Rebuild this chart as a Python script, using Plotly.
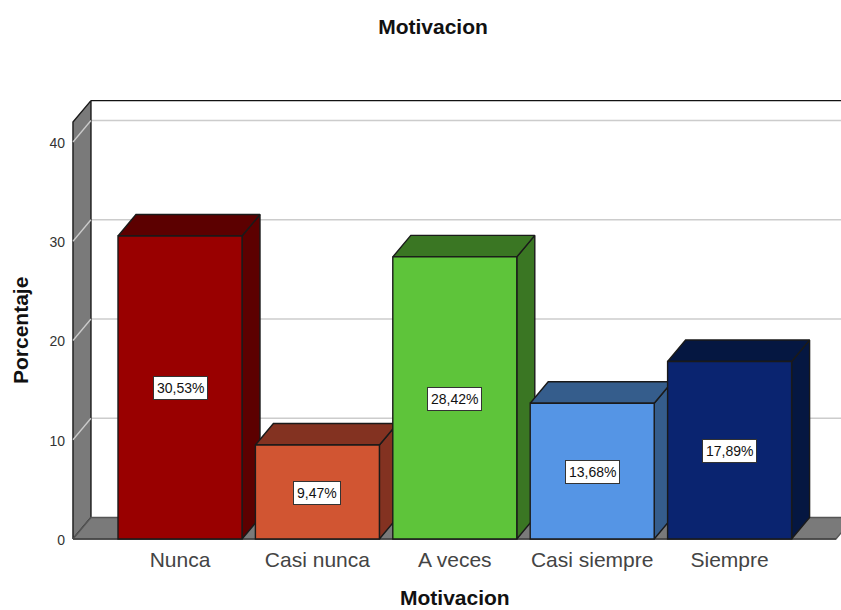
import plotly.graph_objects as go

categories = ["Nunca", "Casi nunca", "A veces", "Casi siempre", "Siempre"]
values = [30.53, 9.47, 28.42, 13.68, 17.89]
labels = ["30,53%", "9,47%", "28,42%", "13,68%", "17,89%"]
front_colors = ["#990000", "#D15532", "#5EC43A", "#5595E5", "#0A2470"]
shade_colors = ["#5C0000", "#833221", "#3A7623", "#355D8C", "#051741"]
y_ticks = [0, 10, 20, 30, 40]

# Plot geometry in axis units
PX_X = 137.4
PX_Y = 9.926
DX = 18 / PX_X
DY = 21.5 / PX_Y
BAR_W = 124 / PX_X
WALL_X = -0.779
FLOOR_X = 4.774
WALL_TOP = 42.0
EDGE = "#1a1a1a"
AX_RANGE_X = [-110 / PX_X, 661 / PX_X]
AX_RANGE_Y = [-0.3, 44.63]

fig = go.Figure()


def poly(xs, ys, fill, line=EDGE, width=1.4, z=0):
    fig.add_trace(go.Scatter(
        x=xs, y=ys, mode="lines", fill="toself", fillcolor=fill,
        line=dict(color=line, width=width), hoverinfo="skip",
        showlegend=False, zorder=z))


def seg(xs, ys, color, width=1.5, z=0):
    fig.add_trace(go.Scatter(
        x=xs, y=ys, mode="lines", line=dict(color=color, width=width),
        hoverinfo="skip", showlegend=False, zorder=z))


# Back-wall gridlines
for t in y_ticks[1:]:
    seg([WALL_X + DX, FLOOR_X + DX], [t + DY, t + DY], "#CCCCCC", 1.5)
# Back frame
seg([WALL_X + DX, FLOOR_X + DX], [WALL_TOP + DY, WALL_TOP + DY], "#111111", 1.4)
# Left wall and floor
poly([WALL_X, WALL_X, WALL_X + DX, WALL_X + DX, WALL_X],
     [0, WALL_TOP, WALL_TOP + DY, DY, 0], "#7A7A7A")
poly([WALL_X, WALL_X + DX, FLOOR_X + DX, FLOOR_X, WALL_X],
     [0, DY, DY, 0, 0], "#7A7A7A", line="#555555")
for t in y_ticks[1:]:
    seg([WALL_X, WALL_X + DX], [t, t + DY], "#CCCCCC", 1.3)
seg([WALL_X, FLOOR_X], [0, 0], "#444444", 1.5)

# Bars: side and top faces left to right, front faces on top
for i, v in enumerate(values):
    l, r = i - BAR_W / 2, i + BAR_W / 2
    poly([r, r + DX, r + DX, r, r], [0, DY, v + DY, v, 0], shade_colors[i], z=1)
    poly([l, l + DX, r + DX, r, l], [v, v + DY, v + DY, v, v], shade_colors[i], z=1)

fig.add_trace(go.Bar(
    x=list(range(len(categories))), y=values, width=BAR_W,
    marker=dict(color=front_colors, line=dict(color=EDGE, width=1.4)),
    hoverinfo="skip", showlegend=False, zorder=2))

for i, v in enumerate(values):
    fig.add_annotation(
        x=i, y=v / 2, text=labels[i], showarrow=False, yshift=-1,
        font=dict(family="Liberation Sans", size=14, color="#111111"),
        bgcolor="white", bordercolor="#333333", borderwidth=1, borderpad=3)

fig.add_annotation(
    xref="paper", yref="paper", x=-50 / 771, y=(542 - 330) / 446,
    text="<b>Porcentaje</b>", textangle=-90, showarrow=False,
    xanchor="center", yanchor="middle",
    font=dict(family="Liberation Sans", size=21, color="#111111"))
fig.add_annotation(
    xref="paper", yref="paper", x=(455 - 70) / 771, y=(542 - 597) / 446,
    text="<b>Motivacion</b>", showarrow=False,
    xanchor="center", yanchor="middle",
    font=dict(family="Liberation Sans", size=21, color="#111111"))

fig.update_layout(
    width=841, height=610, autosize=False,
    margin=dict(l=70, r=0, t=96, b=68),
    paper_bgcolor="white", plot_bgcolor="white",
    showlegend=False,
    font=dict(family="Liberation Sans", color="#333333"),
    title=dict(text="<b>Motivacion</b>", x=433 / 841, xanchor="center",
               y=1 - 27 / 610, yanchor="middle",
               font=dict(size=21, color="#111111")),
    xaxis=dict(range=AX_RANGE_X, tickmode="array",
               tickvals=list(range(len(categories))), ticktext=categories,
               tickfont=dict(size=21, color="#444444"), showgrid=False,
               zeroline=False, showline=False, ticks="", ticklabelstandoff=3,
               automargin=False),
    yaxis=dict(range=AX_RANGE_Y, tickmode="array", tickvals=y_ticks,
               tickfont=dict(size=14, color="#333333"), showgrid=False,
               zeroline=False, showline=False, ticks="", ticklabelstandoff=4,
               ticklabelshift=1, automargin=False),
)

fig.write_html("out.html", config=dict(displayModeBar=False),
               post_script="document.body.style.margin='0';window.scrollTo(0,0);")
